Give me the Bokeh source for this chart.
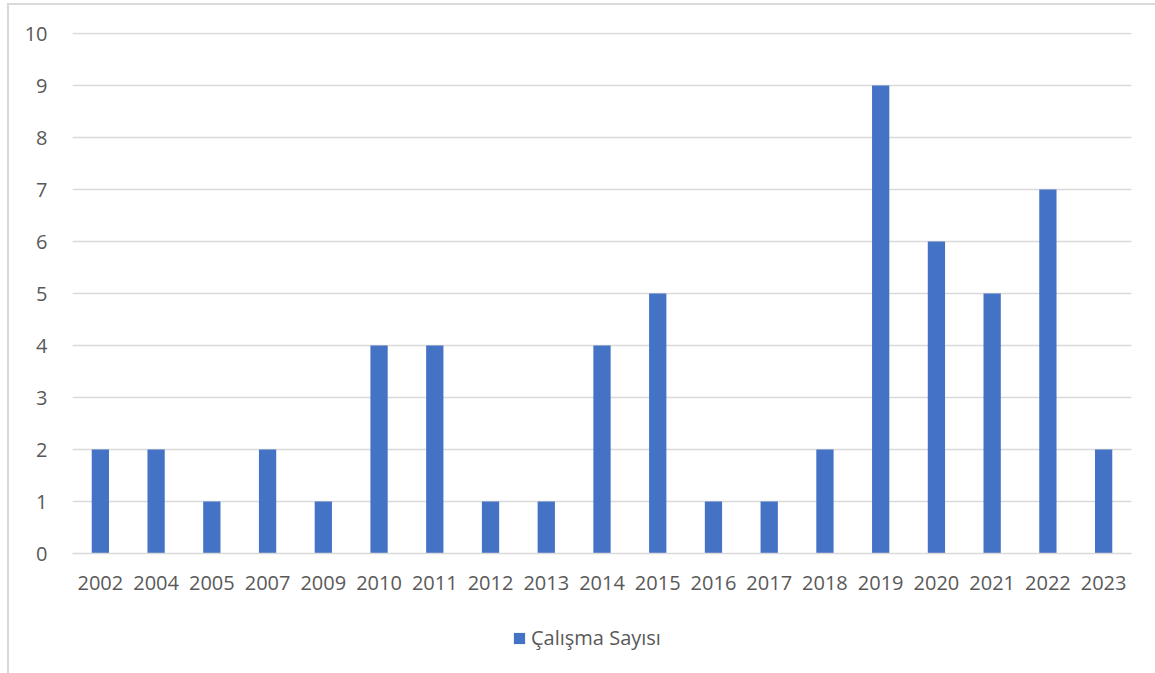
from bokeh.plotting import figure
from bokeh.layouts import column
from bokeh.models import FactorRange, Legend, LegendItem, FixedTicker, Range1d
from bokeh.embed import file_html
from bokeh.resources import INLINE

years = ["2002", "2004", "2005", "2007", "2009", "2010", "2011", "2012", "2013", "2014",
         "2015", "2016", "2017", "2018", "2019", "2020", "2021", "2022", "2023"]
counts = [2, 2, 1, 2, 1, 4, 4, 1, 1, 4, 5, 1, 1, 2, 9, 6, 5, 7, 2]
series_name = "Çalışma Sayısı"
y_ticks = list(range(0, 11))

FONT = "Open Sans"
TXT = "#595959"
BAR = "#4472C4"
GRID = "#d9d9d9"
BORDER_BG = ("linear-gradient(#d9d9d9,#d9d9d9) 7px 0px / 2px 100% no-repeat, "
             "white")
BORDER_BG_TOP = ("linear-gradient(#d9d9d9,#d9d9d9) 7px 3px / 2px 100% no-repeat, "
                 "linear-gradient(#d9d9d9,#d9d9d9) 7px 3px / 100% 2px no-repeat, white")

p = figure(x_range=FactorRange(factors=years, range_padding=0), y_range=Range1d(0, 10.02),
           width=1155, height=610, output_backend="svg", toolbar_location=None,
           min_border_left=72, min_border_right=24, min_border_top=32, min_border_bottom=57)
p.border_fill_color = None
p.styles = {"background": BORDER_BG_TOP}

r = p.vbar(x=years, top=counts, width=0.31, color=BAR, line_color=None)

p.outline_line_color = None
p.xgrid.grid_line_color = None
p.ygrid.grid_line_color = GRID
p.ygrid.grid_line_width = 1.5
p.yaxis.ticker = FixedTicker(ticks=y_ticks)
p.yaxis.axis_line_color = None
p.yaxis.major_tick_line_color = None
p.yaxis.minor_tick_line_color = None
p.yaxis.major_label_standoff = 19
p.xaxis.axis_line_color = GRID
p.xaxis.axis_line_width = 1.5
p.xaxis.major_tick_line_color = None
p.xaxis.minor_tick_line_color = None
p.xaxis.major_label_standoff = 16
for ax in (p.xaxis[0], p.yaxis[0]):
    ax.major_label_text_font = FONT
    ax.major_label_text_font_size = "20px"
    ax.major_label_text_color = TXT

# legend strip below the chart (its swatch renderer is a zero-height bar)
lg = figure(width=1155, height=63, output_backend="svg", toolbar_location=None,
            x_range=Range1d(0, 1), y_range=Range1d(0, 1),
            x_axis_location=None, y_axis_location=None,
            min_border_left=72, min_border_right=24, min_border_top=0, min_border_bottom=0)
lg.border_fill_color = None
lg.background_fill_color = None
lg.styles = {"background": BORDER_BG}
lg.grid.visible = False
lg.outline_line_color = None
lr = lg.vbar(x=[0.5], top=[0], bottom=[0], width=0.01, fill_color=BAR, line_color=None)

legend = Legend(items=[LegendItem(label=series_name, renderers=[lr])],
                orientation="horizontal", location=(440, 22),
                label_text_font=FONT, label_text_font_size="20px", label_text_color=TXT,
                glyph_width=14, glyph_height=14, label_standoff=5, label_height=14,
                border_line_color=None, background_fill_alpha=0, margin=0, padding=0)
lg.add_layout(legend, "center")

layout = column(p, lg, spacing=0)
open("out.html", "w").write(file_html(layout, INLINE))
